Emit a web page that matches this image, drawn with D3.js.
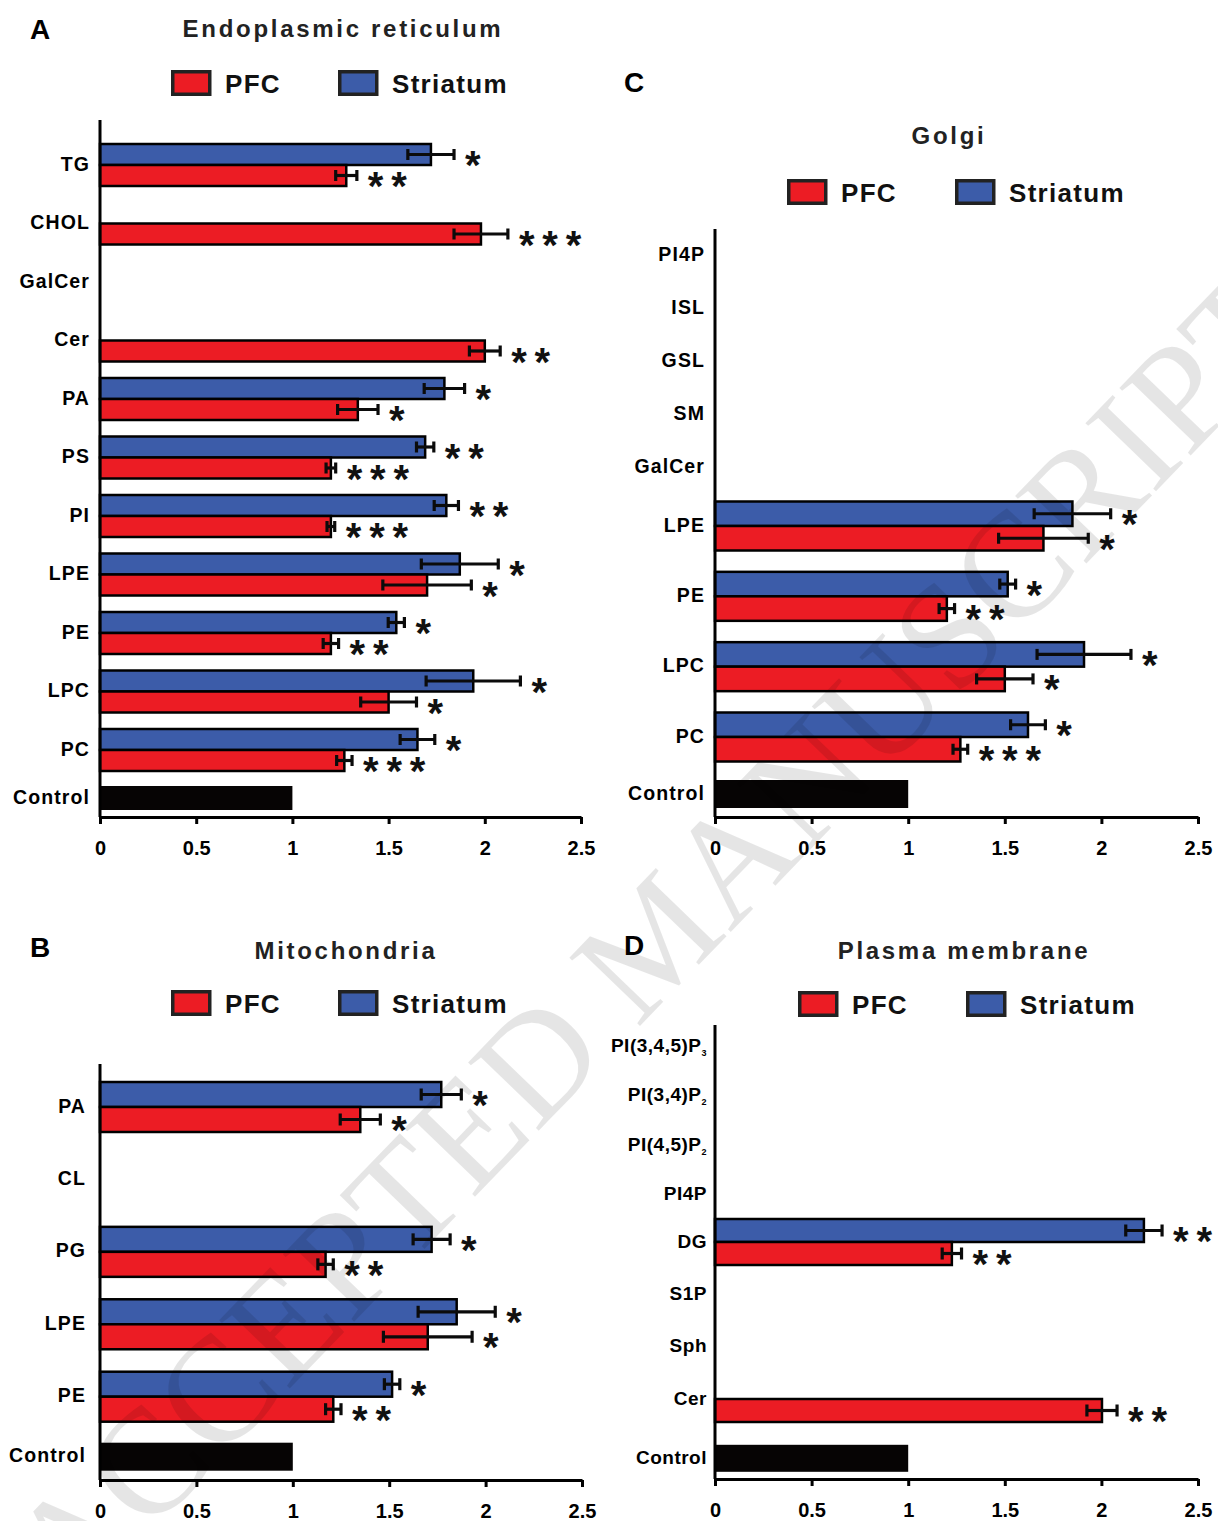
<!DOCTYPE html>
<html>
<head>
<meta charset="utf-8">
<script src="https://cdn.jsdelivr.net/npm/d3@7"></script>
<style>
  body { margin: 0; background: #fff; }
  svg { display: block; font-family: "Liberation Sans", Arial, sans-serif; }
</style>
</head>
<body>
<svg id="fig" width="1218" height="1521"></svg>
<script>
// ---------------- data: fold change vs. control (mean ± SEM) ----------------
const controlValue = 1;
const tickValues = [0, 0.5, 1, 1.5, 2, 2.5];
const seriesNames = ["PFC", "Striatum"];

// A — Endoplasmic reticulum
const erCategories = ["TG", "CHOL", "GalCer", "Cer", "PA", "PS", "PI", "LPE", "PE", "LPC", "PC", "Control"];
const erPFC     = [1.28, 1.98, null, 2.00, 1.34, 1.20, 1.20, 1.70, 1.20, 1.50, 1.27];
const erPFCErr  = [0.055, 0.14, null, 0.08, 0.105, 0.025, 0.02, 0.23, 0.04, 0.145, 0.04];
const erPFCSig  = ["**", "***", "", "**", "*", "***", "***", "*", "**", "*", "***"];
const erStr     = [1.72, null, null, null, 1.79, 1.69, 1.80, 1.87, 1.54, 1.94, 1.65];
const erStrErr  = [0.12, null, null, null, 0.105, 0.045, 0.063, 0.20, 0.042, 0.245, 0.09];
const erStrSig  = ["*", "", "", "", "*", "**", "**", "*", "*", "*", "*"];

// B — Mitochondria
const mitoCategories = ["PA", "CL", "PG", "LPE", "PE", "Control"];
const mitoPFC     = [1.35, null, 1.17, 1.70, 1.21];
const mitoPFCErr  = [0.104, null, 0.04, 0.23, 0.04];
const mitoPFCSig  = ["*", "", "**", "*", "**"];
const mitoStr     = [1.77, null, 1.72, 1.85, 1.515];
const mitoStrErr  = [0.104, null, 0.096, 0.20, 0.04];
const mitoStrSig  = ["*", "", "*", "*", "*"];

// C — Golgi
const golgiCategories = ["PI4P", "ISL", "GSL", "SM", "GalCer", "LPE", "PE", "LPC", "PC", "Control"];
const golgiPFC     = [null, null, null, null, null, 1.70, 1.20, 1.50, 1.27];
const golgiPFCErr  = [null, null, null, null, null, 0.232, 0.04, 0.146, 0.038];
const golgiPFCSig  = ["", "", "", "", "", "*", "**", "*", "***"];
const golgiStr     = [null, null, null, null, null, 1.85, 1.515, 1.91, 1.62];
const golgiStrErr  = [null, null, null, null, null, 0.198, 0.041, 0.243, 0.09];
const golgiStrSig  = ["", "", "", "", "", "*", "*", "*", "*"];

// D — Plasma membrane ("_" marks a subscript)
const pmCategories = ["PI(3,4,5)P_3", "PI(3,4)P_2", "PI(4,5)P_2", "PI4P", "DG", "S1P", "Sph", "Cer", "Control"];
const pmPFC     = [null, null, null, null, 1.226, null, null, 2.003];
const pmPFCErr  = [null, null, null, null, 0.05, null, null, 0.078];
const pmPFCSig  = ["", "", "", "", "**", "", "", "**"];
const pmStr     = [null, null, null, null, 2.22, null, null, null];
const pmStrErr  = [null, null, null, null, 0.094, null, null, null];
const pmStrSig  = ["", "", "", "", "**", "", "", ""];

// ---------------- layout & style ----------------
const COLORS = { pfc: "#ec1c24", str: "#3c5ca9", ctrl: "#060404", ink: "#0b0b0b", title: "#222" };
const STAR_STEP = 23.4;   // centre-to-centre spacing of asterisks

const panels = [
  { letter: "A", title: "Endoplasmic reticulum", categories: erCategories,
    pfc: erPFC, pfcErr: erPFCErr, pfcSig: erPFCSig, str: erStr, strErr: erStrErr, strSig: erStrSig,
    letterPos: [30, 39], titlePos: [343, 37], legendTop: 70, legendX: [171, 338],
    xRange: [100, 581], axisTop: 120, axisY: 817, labelX: 90, labelFont: 19.5, labelLs: 1.1,
    knotIdx: [0, 10, 11], knotY: [165, 750, 798], barH: 21, ctrlH: 24, cap: 11 },
  { letter: "B", title: "Mitochondria", categories: mitoCategories,
    pfc: mitoPFC, pfcErr: mitoPFCErr, pfcSig: mitoPFCSig, str: mitoStr, strErr: mitoStrErr, strSig: mitoStrSig,
    letterPos: [30, 957], titlePos: [346, 959], legendTop: 990, legendX: [171, 338],
    xRange: [100, 582], axisTop: 1064, axisY: 1480, labelX: 86, labelFont: 19.5, labelLs: 1.1,
    knotIdx: [0, 4, 5], knotY: [1107, 1396.7, 1456.7], barH: 25, ctrlH: 28, cap: 12 },
  { letter: "C", title: "Golgi", categories: golgiCategories,
    pfc: golgiPFC, pfcErr: golgiPFCErr, pfcSig: golgiPFCSig, str: golgiStr, strErr: golgiStrErr, strSig: golgiStrSig,
    letterPos: [624, 92], titlePos: [949, 144], legendTop: 179, legendX: [787, 955],
    xRange: [715, 1198], axisTop: 229, axisY: 817, labelX: 705, labelFont: 19.5, labelLs: 1.1,
    knotIdx: [0, 4, 5, 8, 9], knotY: [255, 467, 526, 737, 794], barH: 24.5, ctrlH: 28, cap: 11 },
  { letter: "D", title: "Plasma membrane", categories: pmCategories,
    pfc: pmPFC, pfcErr: pmPFCErr, pfcSig: pmPFCSig, str: pmStr, strErr: pmStrErr, strSig: pmStrSig,
    letterPos: [624, 955], titlePos: [964, 959], legendTop: 991, legendX: [798, 966],
    xRange: [715, 1198], axisTop: 1025, axisY: 1479, labelX: 707, labelFont: 19, labelLs: 0.5,
    knotIdx: [0, 3, 4, 7, 8], knotY: [1046, 1194.7, 1242, 1399, 1458.3], barH: 23, ctrlH: 27, cap: 12 }
];

const svg = d3.select("#fig");
svg.append("rect").attr("width", 1218).attr("height", 1521).attr("fill", "#fff");

function drawPanel(p) {
  const g = svg.append("g");
  const x = d3.scaleLinear().domain([0, 2.5]).range(p.xRange);
  const order = d3.scaleOrdinal().domain(p.categories).range(d3.range(p.categories.length));
  const pos = d3.scaleLinear().domain(p.knotIdx).range(p.knotY);
  const y = c => pos(order(c));

  // panel letter and title
  g.append("text").attr("x", p.letterPos[0]).attr("y", p.letterPos[1])
    .attr("font-size", 28).attr("font-weight", "bold").attr("fill", "#000").text(p.letter);
  g.append("text").attr("x", p.titlePos[0]).attr("y", p.titlePos[1])
    .attr("text-anchor", "middle").attr("font-size", 24).attr("font-weight", "bold")
    .attr("letter-spacing", 2.7).attr("fill", COLORS.title).text(p.title);

  // legend
  const leg = g.selectAll("g.leg").data(seriesNames).join("g").attr("class", "leg");
  leg.append("rect")
    .attr("x", (d, i) => p.legendX[i] + 1.75).attr("y", p.legendTop + 1.75)
    .attr("width", 37).attr("height", 22.5)
    .attr("fill", (d, i) => i === 0 ? COLORS.pfc : COLORS.str)
    .attr("stroke", "#222").attr("stroke-width", 3.5);
  leg.append("text")
    .attr("x", (d, i) => p.legendX[i] + 54).attr("y", p.legendTop + 22.5)
    .attr("font-size", 26).attr("font-weight", "bold").attr("letter-spacing", 1.3)
    .attr("fill", "#111").text(d => d);

  // bar records
  const rows = [];
  p.categories.forEach((c, i) => {
    if (c === "Control") return;
    if (p.str[i] != null) rows.push({ cat: c, v: p.str[i], e: p.strErr[i], sig: p.strSig[i], s: "str" });
    if (p.pfc[i] != null) rows.push({ cat: c, v: p.pfc[i], e: p.pfcErr[i], sig: p.pfcSig[i], s: "pfc" });
  });
  const top = d => d.s === "str" ? y(d.cat) - p.barH : y(d.cat);
  const mid = d => top(d) + p.barH / 2;

  g.selectAll("rect.bar").data(rows).join("rect").attr("class", "bar")
    .attr("x", x(0)).attr("y", top)
    .attr("width", d => x(d.v) - x(0)).attr("height", p.barH)
    .attr("fill", d => COLORS[d.s]).attr("stroke", "#000").attr("stroke-width", 2.5);

  // control bar
  g.append("rect").attr("x", x(0)).attr("y", y("Control") - p.ctrlH / 2)
    .attr("width", x(controlValue) - x(0)).attr("height", p.ctrlH).attr("fill", COLORS.ctrl);

  // error bars
  const eb = g.selectAll("g.err").data(rows).join("g").attr("class", "err")
    .attr("stroke", COLORS.ink).attr("stroke-width", 3.2);
  eb.append("line").attr("x1", d => x(d.v - d.e)).attr("x2", d => x(d.v + d.e))
    .attr("y1", mid).attr("y2", mid);
  eb.append("line").attr("x1", d => x(d.v - d.e)).attr("x2", d => x(d.v - d.e))
    .attr("y1", d => mid(d) - p.cap / 2).attr("y2", d => mid(d) + p.cap / 2);
  eb.append("line").attr("x1", d => x(d.v + d.e)).attr("x2", d => x(d.v + d.e))
    .attr("y1", d => mid(d) - p.cap / 2).attr("y2", d => mid(d) + p.cap / 2);

  // significance stars, one glyph each
  const stars = [];
  rows.filter(d => d.sig).forEach(d => {
    for (let k = 0; k < d.sig.length; k++) stars.push({ row: d, k });
  });
  g.selectAll("text.sig").data(stars).join("text").attr("class", "sig")
    .attr("x", s => x(s.row.v + s.row.e) + 11 + s.k * STAR_STEP)
    .attr("y", s => mid(s.row) + 24.5)
    .attr("font-size", 40).attr("font-weight", "bold")
    .attr("fill", "#111").text("*");

  // category labels
  const lab = g.selectAll("text.cat").data(p.categories).join("text").attr("class", "cat")
    .attr("x", p.labelX).attr("y", c => y(c) + 5.5)
    .attr("text-anchor", "end").attr("font-size", p.labelFont).attr("font-weight", "bold")
    .attr("letter-spacing", p.labelLs).attr("fill", "#000");
  lab.each(function (c) {
    const parts = c.split("_");
    const t = d3.select(this);
    t.append("tspan").text(parts[0]);
    if (parts[1]) t.append("tspan").attr("font-size", 9).attr("dy", 4).text(parts[1]);
  });

  // y axis line
  g.append("line").attr("x1", x(0)).attr("x2", x(0)).attr("y1", p.axisTop).attr("y2", p.axisY)
    .attr("stroke", "#000").attr("stroke-width", 3);

  // x axis
  const ax = g.append("g").attr("transform", `translate(0,${p.axisY})`)
    .call(d3.axisBottom(x).tickValues(tickValues).tickFormat(d3.format("")).tickSize(7).tickSizeOuter(0));
  ax.select(".domain").attr("stroke", "#000").attr("stroke-width", 3);
  ax.selectAll(".tick line").attr("stroke", "#000").attr("stroke-width", 3);
  ax.selectAll(".tick text").attr("y", 38).attr("dy", 0)
    .attr("font-family", "\"Liberation Sans\", Arial, sans-serif")
    .attr("font-size", 20).attr("font-weight", "bold").attr("fill", "#000");
}

panels.forEach(drawPanel);

// diagonal watermark across the figure
svg.append("text")
  .attr("transform", "translate(655,939) rotate(-46)")
  .attr("text-anchor", "middle").attr("y", 49.5)
  .attr("font-family", "\"Liberation Serif\", \"Times New Roman\", serif")
  .attr("font-size", 150).attr("fill", "#000").attr("fill-opacity", 0.1)
  .text("ACCEPTED MANUSCRIPT");
</script>
</body>
</html>
